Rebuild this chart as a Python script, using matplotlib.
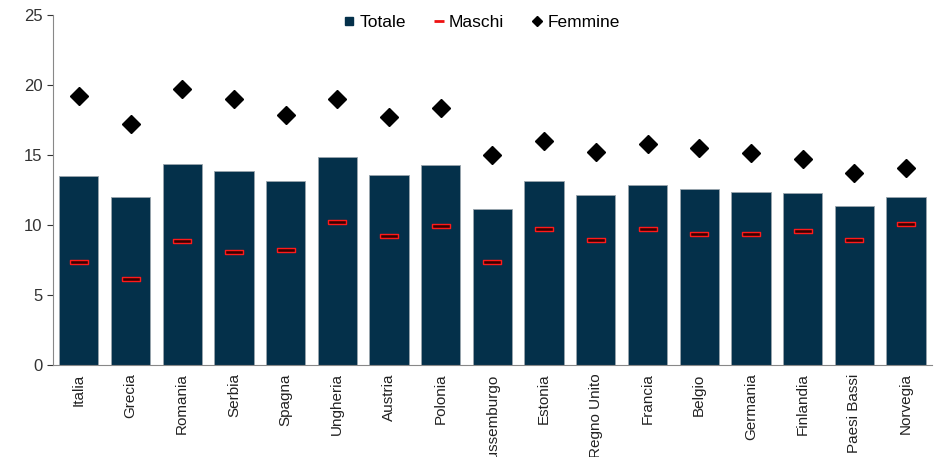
import numpy as np
import matplotlib.pyplot as plt
from matplotlib.lines import Line2D

plt.rcParams['font.family'] = ['Liberation Sans', 'DejaVu Sans']

paesi = ['Italia', 'Grecia', 'Romania', 'Serbia', 'Spagna', 'Ungheria', 'Austria',
         'Polonia', 'Lussemburgo', 'Estonia', 'Regno Unito', 'Francia', 'Belgio',
         'Germania', 'Finlandia', 'Paesi Bassi', 'Norvegia']
totale = [13.5, 12.0, 14.4, 13.85, 13.15, 14.85, 13.55, 14.3, 11.15, 13.15, 12.15,
          12.9, 12.55, 12.35, 12.3, 11.35, 12.0]
maschi = [7.4, 6.15, 8.85, 8.1, 8.2, 10.2, 9.2, 9.95, 7.35, 9.7, 8.95, 9.7, 9.4,
          9.4, 9.55, 8.95, 10.1]
femmine = [19.2, 17.2, 19.7, 19.0, 17.85, 19.0, 17.75, 18.35, 15.0, 16.0, 15.25,
           15.8, 15.5, 15.15, 14.75, 13.75, 14.05]

navy = '#04304a'
x = np.arange(len(paesi))

fig = plt.figure(figsize=(9.39, 4.57), dpi=100)
ax = fig.add_axes([0.0564, 0.201, 0.936, 0.766])

ax.bar(x, totale, width=0.76, color=navy, edgecolor='#9aa5ad', linewidth=0.6, zorder=2)

# red dash with dark core for Maschi
rect = [(-1, -0.24), (1, -0.24), (1, 0.24), (-1, 0.24), (-1, -0.24)]
ax.plot(x, maschi, linestyle='none', marker=rect, markersize=13.5,
        markerfacecolor='#3a0000', markeredgecolor='#ff1a1a', markeredgewidth=1.0, zorder=3)
ax.plot(x, femmine, linestyle='none', marker='D', markersize=9.5,
        color='black', zorder=3)

ax.set_xlim(-0.5, len(paesi) - 0.5)
ax.set_ylim(0, 25)
ax.set_yticks([0, 5, 10, 15, 20, 25])
ax.set_xticks(x)
ax.set_xticklabels(paesi, rotation=90, fontsize=11)
ax.tick_params(axis='y', labelsize=12, colors='#333333', length=4, direction='out')
ax.tick_params(axis='x', length=0, pad=6, colors='#222222')
for s in ['top', 'right']:
    ax.spines[s].set_visible(False)
for s in ['left', 'bottom']:
    ax.spines[s].set_color('#888888')

handles = [
    Line2D([], [], linestyle='none', marker='s', markersize=6, color=navy),
    Line2D([], [], linestyle='none', marker='_', markersize=7, markeredgewidth=2, color='#ee1111'),
    Line2D([], [], linestyle='none', marker='D', markersize=5, color='black'),
]
ax.legend(handles, ['Totale', 'Maschi', 'Femmine'], loc='upper center',
          bbox_to_anchor=(0.486, 1.045), ncol=3, frameon=False, fontsize=12.5,
          handletextpad=0.1, columnspacing=1.4, handlelength=1.0)

fig.savefig('out.png', dpi=100)
